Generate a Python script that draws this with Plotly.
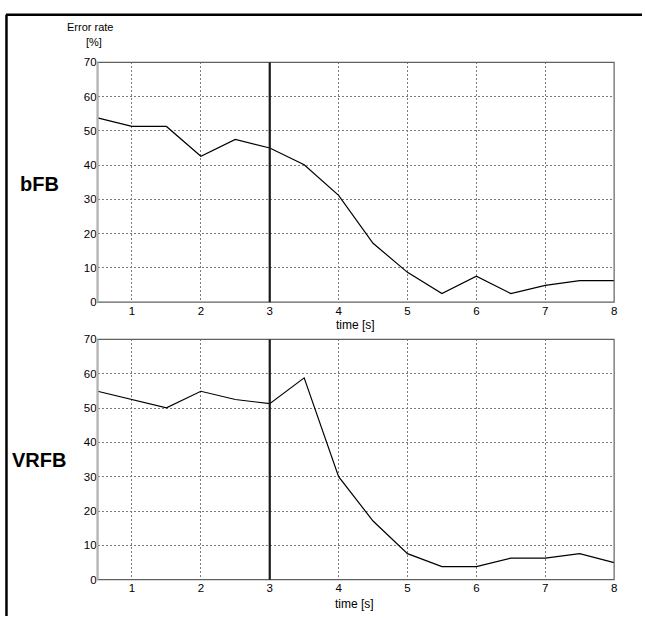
import plotly.graph_objects as go

# Time points (s) and error rates (%) for the two feedback conditions
time_s = [0.5, 1.0, 1.5, 2.0, 2.5, 3.0, 3.5, 4.0, 4.5, 5.0, 5.5, 6.0, 6.5, 7.0, 7.5, 8.0]
bfb_error = [53.8, 51.3, 51.3, 42.6, 47.5, 45.0, 40.1, 31.2, 17.2, 8.7, 2.5, 7.6, 2.5, 4.9, 6.3, 6.3]
vrfb_error = [54.9, 52.6, 50.1, 54.9, 52.5, 51.3, 58.8, 30.0, 17.1, 7.6, 3.8, 3.8, 6.3, 6.3, 7.6, 5.0]

panel_labels = ["bFB", "VRFB"]
x_ticks = [1, 2, 3, 4, 5, 6, 7, 8]
y_ticks = [0, 10, 20, 30, 40, 50, 60, 70]
cue_time = 3

W, H = 645, 622


def px_x(p):
    return p / W


def px_y(p):
    return 1 - p / H


x_dom = [px_x(98), px_x(617)]
top_dom = [px_y(302), px_y(57.5)]
bot_dom = [px_y(585), px_y(340)]

fig = go.Figure()

fig.add_trace(go.Scatter(x=time_s, y=bfb_error, mode="lines",
                         line=dict(color="black", width=1.2),
                         xaxis="x", yaxis="y", showlegend=False))
fig.add_trace(go.Scatter(x=time_s, y=vrfb_error, mode="lines",
                         line=dict(color="black", width=1.2),
                         xaxis="x2", yaxis="y2", showlegend=False))

tick_font = dict(family="Liberation Sans, Arial, sans-serif", size=11.5, color="black")

axis_common = dict(
    showgrid=True, gridcolor="#7a7a7a", griddash="2px,2px", gridwidth=1,
    zeroline=False, showline=False, ticks="", tickfont=tick_font,
)

fig.update_layout(
    width=W, height=H,
    margin=dict(l=0, r=0, t=0, b=0),
    paper_bgcolor="white", plot_bgcolor="white",
    xaxis=dict(domain=x_dom, anchor="y", range=[0.5, 8], tickvals=x_ticks, **axis_common),
    yaxis=dict(domain=top_dom, anchor="x", range=[0, 70], tickvals=y_ticks, **axis_common),
    xaxis2=dict(domain=x_dom, anchor="y2", range=[0.5, 8], tickvals=x_ticks, **axis_common),
    yaxis2=dict(domain=bot_dom, anchor="x2", range=[0, 70], tickvals=y_ticks, **axis_common),
)

shapes = []
for xa, ya in [("x", "y"), ("x2", "y2")]:
    # plot frame
    shapes.append(dict(type="rect", xref=f"{xa} domain", yref=f"{ya} domain",
                       x0=0, x1=1, y0=0, y1=1,
                       line=dict(color="#606060", width=1.2)))
    # lighter left axis edge
    shapes.append(dict(type="line", xref=f"{xa} domain", yref=f"{ya} domain",
                       x0=0, x1=0, y0=0, y1=1,
                       line=dict(color="#b4b4b4", width=2.2)))
    # cue onset marker
    shapes.append(dict(type="line", xref=xa, yref=f"{ya} domain",
                       x0=cue_time, x1=cue_time, y0=0, y1=1,
                       line=dict(color="#1a1a1a", width=2.2)))

# outer border (top and left edges)
shapes.append(dict(type="line", xref="paper", yref="paper",
                   x0=px_x(6), x1=1, y0=px_y(9), y1=px_y(9),
                   line=dict(color="black", width=2.5)))
shapes.append(dict(type="line", xref="paper", yref="paper",
                   x0=px_x(6.5), x1=px_x(6.5), y0=px_y(9), y1=0,
                   line=dict(color="black", width=2.5)))
fig.update_layout(shapes=shapes)

label_font = dict(family="Liberation Sans, Arial, sans-serif", size=11, color="black")
small_font = dict(family="Liberation Sans, Arial, sans-serif", size=12, color="black")
big_font = dict(family="Liberation Sans, Arial, sans-serif", size=20, color="black")

annotations = [
    dict(text="Error rate", x=px_x(90), y=px_y(21.5), font=label_font),
    dict(text="[%]", x=px_x(94), y=px_y(37), font=label_font),
    dict(text=f"<b>{panel_labels[0]}</b>", x=px_x(40), y=px_y(181), font=big_font),
    dict(text=f"<b>{panel_labels[1]}</b>", x=px_x(39), y=px_y(463), font=big_font),
    dict(text="time [s]", x=px_x(357), y=px_y(325), font=small_font),
    dict(text="time [s]", x=px_x(356), y=px_y(610), font=small_font),
]
for a in annotations:
    a.update(xref="paper", yref="paper", showarrow=False, xanchor="center", yanchor="middle")
fig.update_layout(annotations=annotations)

fig.write_html("out.html")
